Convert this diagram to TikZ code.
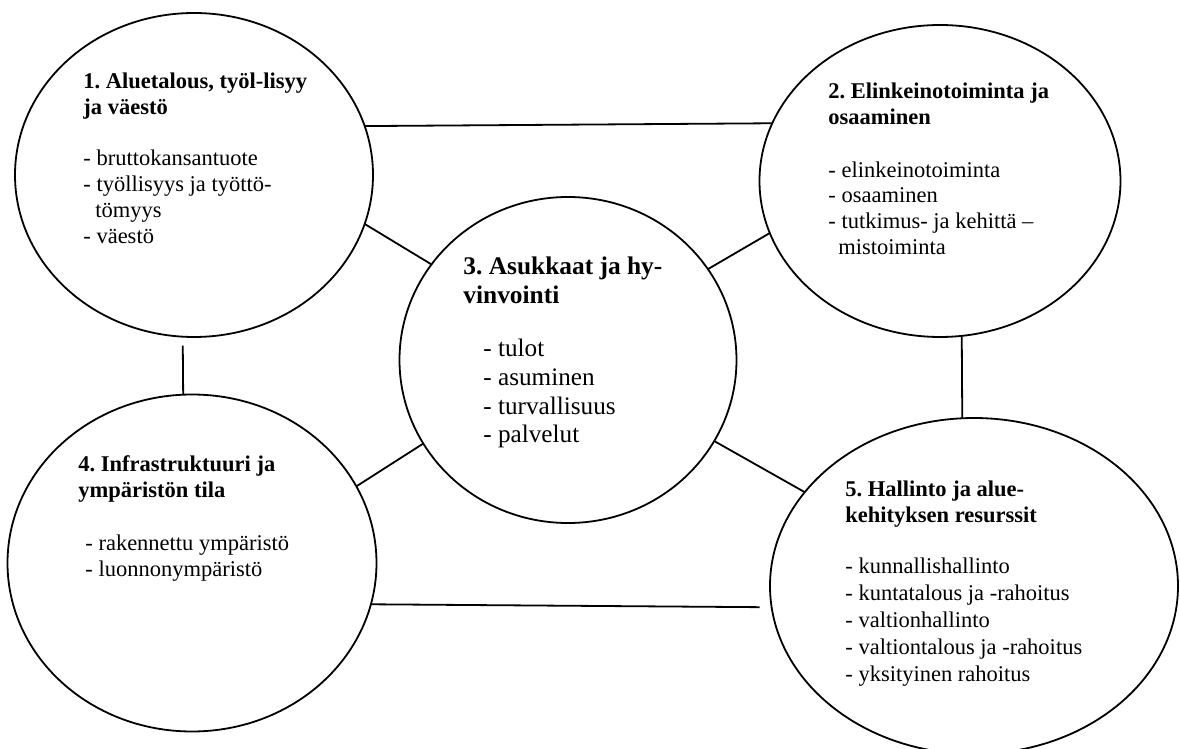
\documentclass[tikz,border=0pt]{standalone}
\usepackage{fontspec}
\setmainfont{Liberation Serif}
\usetikzlibrary{shapes.geometric}
\frenchspacing

\tikzset{
  circ/.style={ellipse, draw, line width=0.9pt, inner sep=0pt, outer sep=0pt},
  link/.style={line width=0.9pt},
  head/.style={anchor=base west, inner sep=0pt, align=left, font=\bfseries\fontsize{11.25}{13}\selectfont},
  items/.style={anchor=base west, inner sep=0pt, align=left, font=\fontsize{11.25}{13}\selectfont}
}

\begin{document}
\begin{tikzpicture}[x=0.5pt, y=-0.5pt]
% Set the page size
\useasboundingbox (0,0) rectangle (1180,749);

% Draw the five circles
\node[circ, minimum width=179pt, minimum height=162pt] (e1) at (194,175) {};
\node[circ, minimum width=180.5pt, minimum height=156pt] (e2) at (940,181) {};
\node[circ, minimum width=168.5pt, minimum height=163pt] (e3) at (568,360) {};
\node[circ, minimum width=184.5pt, minimum height=168.5pt] (e4) at (192,563) {};
\node[circ, minimum width=204pt, minimum height=168pt] (e5) at (974,586) {};

% Connect the circles
\draw[link] (e1.16.3) -- (e2.161.6);
\draw[link] (e1.-16.9) -- (e3.145.7);
\draw[link] (e2.197) -- (e3.33.3);
\draw[link] (e3.210.4) -- (e4.25.7);
\draw[link] (e3.-29.2) -- (e5.151.8);
\draw[link, shorten >=6pt] (e4.-13.8) -- (e5.186.8);
\draw[link, shorten <=4.5pt] (e1.266.1) -- (e4.93);
\draw[link] (e2.278) -- (e5.94.1);

% Insert the texts (placed at the baseline of the last line)
\node[head] (t1) at (83,115) {1. Aluetalous, työl-lisyy\\ja väestö};
\node[items] (l1) at (83,243) {- bruttokansantuote\\- työllisyys ja työttö-\\\hspace*{6pt}tömyys\\- väestö};
\node[head] (t2) at (828,125) {2. Elinkeinotoiminta ja\\osaaminen};
\node[items] (l2) at (828,255) {- elinkeinotoiminta\\- osaaminen\\- tutkimus- ja kehittä –\\\hspace*{5pt}mistoiminta};
\node[head, font=\bfseries\fontsize{12.7}{14.5}\selectfont] (t3) at (463,304) {3. Asukkaat ja hy-\\vinvointi};
\node[items, font=\fontsize{12.6}{14.4}\selectfont] (l3) at (483,443) {- tulot\\- asuminen\\- turvallisuus\\- palvelut};
\node[head] (t4) at (78,497) {4. Infrastruktuuri ja\\ympäristön tila};
\node[items] (l4) at (85,576) {- rakennettu ympäristö\\- luonnonympäristö};
\node[head] (t5) at (845,522) {5. Hallinto ja alue-\\kehityksen resurssit};
\node[items, font=\fontsize{11.25}{13.5}\selectfont] (l5) at (845,681) {- kunnallishallinto\\- kuntatalous ja -rahoitus\\- valtionhallinto\\- valtiontalous ja -rahoitus\\- yksityinen rahoitus};
\end{tikzpicture}
\end{document}
